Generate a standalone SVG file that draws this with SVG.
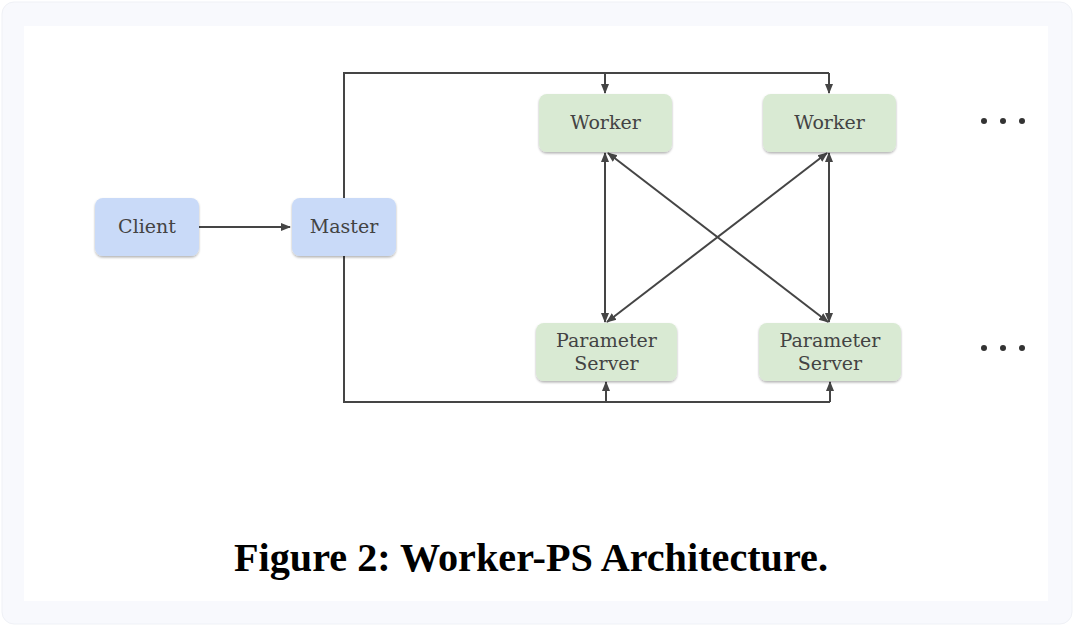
<svg xmlns="http://www.w3.org/2000/svg" width="1080" height="629" viewBox="0 0 1080 629">
<style>
.node rect{stroke:none;filter:url(#sh)}
.blue rect{fill:#c9daf8}
.green rect{fill:#d9ead3}
.lbl{font-family:"DejaVu Serif","Liberation Serif",serif;font-size:19px;fill:#434343;text-anchor:middle}
.conn{stroke:#454545;stroke-width:2;fill:none}
.dot{fill:#333}
</style>
<defs>
<filter id="sh" x="-10%" y="-10%" width="120%" height="130%">
<feDropShadow dx="0" dy="1.5" stdDeviation="1.2" flood-color="#000" flood-opacity="0.3"/>
</filter>
<marker id="ah" viewBox="0 0 10 10" refX="9" refY="5" markerWidth="5" markerHeight="5" orient="auto-start-reverse" markerUnits="strokeWidth">
<path d="M0,1 L10,5 L0,9 Z" fill="#454545"/>
</marker>
</defs>
<rect x="2" y="2" width="1070" height="622" rx="12" fill="#f8f9fd" stroke="#eff1f6" stroke-width="1"/>
<rect x="24" y="26" width="1024" height="575" fill="#ffffff"/>
<g id="connectors">
<line class="conn" x1="199" y1="227" x2="290" y2="227" marker-end="url(#ah)"/>
<polyline class="conn" points="344,198 344,73 829,73"/>
<line class="conn" x1="605" y1="73" x2="605" y2="93" marker-end="url(#ah)"/>
<line class="conn" x1="829" y1="73" x2="829" y2="93" marker-end="url(#ah)"/>
<polyline class="conn" points="344,256 344,402 830,402"/>
<line class="conn" x1="606" y1="402" x2="606" y2="382" marker-end="url(#ah)"/>
<line class="conn" x1="830" y1="402" x2="830" y2="382" marker-end="url(#ah)"/>
<line class="conn" x1="605" y1="153" x2="605" y2="322" marker-start="url(#ah)" marker-end="url(#ah)"/>
<line class="conn" x1="829" y1="153" x2="829" y2="322" marker-start="url(#ah)" marker-end="url(#ah)"/>
<line class="conn" x1="608" y1="153" x2="828" y2="322" marker-start="url(#ah)" marker-end="url(#ah)"/>
<line class="conn" x1="827" y1="153" x2="607" y2="322" marker-start="url(#ah)" marker-end="url(#ah)"/>
</g>
<g id="client" class="node blue"><rect x="95" y="198" width="104" height="58" rx="8"/><text class="lbl" x="147" y="233">Client</text></g>
<g id="master" class="node blue"><rect x="292" y="198" width="104" height="58" rx="8"/><text class="lbl" x="344" y="233">Master</text></g>
<g id="worker1" class="node green"><rect x="539" y="94" width="133" height="58" rx="8"/><text class="lbl" x="605.500" y="129">Worker</text></g>
<g id="worker2" class="node green"><rect x="763" y="94" width="133" height="58" rx="8"/><text class="lbl" x="829.500" y="129">Worker</text></g>
<g id="ps1" class="node green"><rect x="536" y="323" width="141" height="58" rx="8"/><text class="lbl" x="606.500" y="347">Parameter</text><text class="lbl" x="606.500" y="370">Server</text></g>
<g id="ps2" class="node green"><rect x="759" y="323" width="142" height="58" rx="8"/><text class="lbl" x="830" y="347">Parameter</text><text class="lbl" x="830" y="370">Server</text></g>
<g id="dots1"><circle class="dot" cx="984" cy="121" r="3"/><circle class="dot" cx="1003" cy="121" r="3"/><circle class="dot" cx="1022" cy="121" r="3"/></g>
<g id="dots2"><circle class="dot" cx="984" cy="348" r="3"/><circle class="dot" cx="1003" cy="348" r="3"/><circle class="dot" cx="1022" cy="348" r="3"/></g>
<text x="531" y="571" font-family="'Liberation Serif',serif" font-weight="bold" font-size="39" fill="#000" text-anchor="middle" textLength="594" lengthAdjust="spacingAndGlyphs">Figure 2: Worker-PS Architecture.</text>
</svg>
